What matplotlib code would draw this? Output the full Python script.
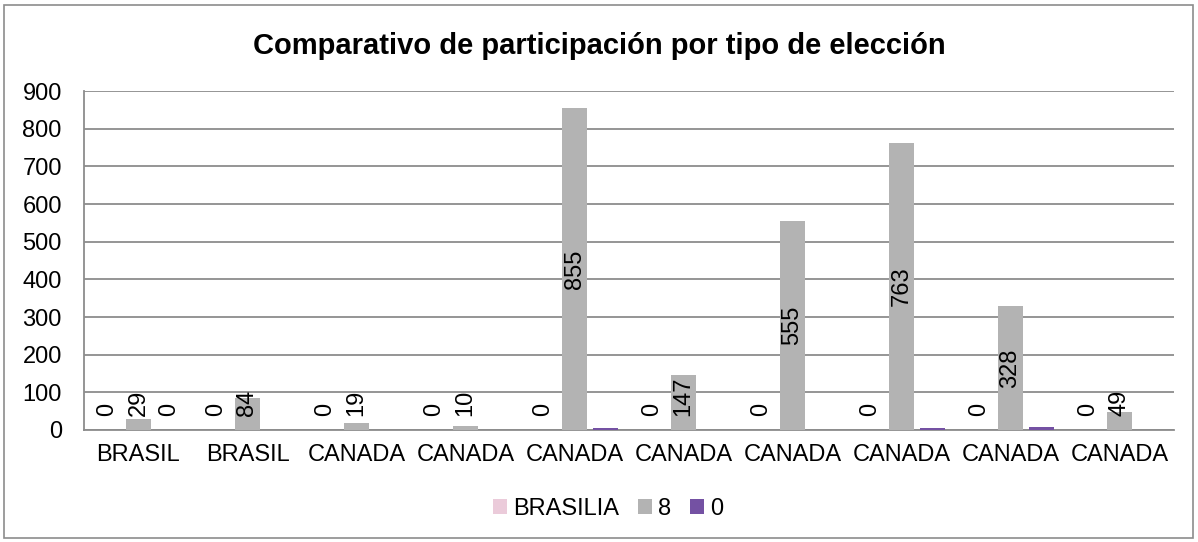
import matplotlib
matplotlib.use("Agg")
import matplotlib.pyplot as plt
from matplotlib.patches import Rectangle
import numpy as np

categories = ["BRASIL", "BRASIL", "CANADA", "CANADA", "CANADA", "CANADA", "CANADA", "CANADA", "CANADA", "CANADA"]
series_names = ["BRASILIA", "8", "0"]
brasilia = [0, 0, 0, 0, 0, 0, 0, 0, 0, 0]
ocho = [29, 84, 19, 10, 855, 147, 555, 763, 328, 49]
cero = [0, 0, 0, 0, 6, 0, 1, 5, 7, 0]
cero_labels = ["0", None, None, None, None, None, None, None, None, None]
yticks = [0, 100, 200, 300, 400, 500, 600, 700, 800, 900]

colors = ["#EBCBDA", "#B3B3B3", "#7451A3"]

plt.rcParams['font.family'] = ['Liberation Sans', 'DejaVu Sans']

fig = plt.figure(figsize=(11.98, 5.42), dpi=100)
fig.patches.append(Rectangle((4/1198, 4/542), 1189/1198, 533/542, transform=fig.transFigure,
                             fill=False, edgecolor="#8C8C8C", linewidth=1.2))
ax_top, ax_bot = 91, 430
ax = fig.add_axes([84/1198, (542-ax_bot)/542, (1174-84)/1198, (ax_bot-ax_top)/542])

x = np.arange(len(categories))
off = 0.285
w = 0.235
ax.bar(x - off, brasilia, w, color=colors[0], label=series_names[0], zorder=3)
ax.bar(x, ocho, w, color=colors[1], label=series_names[1], zorder=3)
ax.bar(x + off, cero, w, color=colors[2], label=series_names[2], zorder=3)

fs = 17
ymax = 900
px_per_unit = (ax_bot - ax_top) / ymax
em_px = fs * 100 / 72


def label_y(v, s):
    half = len(s) * 0.556 * em_px / 2 / px_per_unit
    return max(v / 2, 37 + half)


for i in range(len(x)):
    s = str(brasilia[i])
    ax.text(x[i] - off, label_y(brasilia[i], s), s, rotation=90,
            ha="center", va="center", fontsize=fs, zorder=4)
    s = str(ocho[i])
    ax.text(x[i], label_y(ocho[i], s), s, rotation=90,
            ha="center", va="center", fontsize=fs, zorder=4)
    if cero_labels[i] is not None:
        s = cero_labels[i]
        ax.text(x[i] + off, label_y(cero[i], s), s, rotation=90,
                ha="center", va="center", fontsize=fs, zorder=4)

ax.set_xlim(-0.5, len(x) - 0.5)
ax.set_ylim(0, ymax)
ax.set_yticks(yticks)
ax.set_yticklabels([str(v) for v in yticks], fontsize=fs)
ax.set_xticks(x)
ax.set_xticklabels(categories, fontsize=fs)
ax.tick_params(axis="x", length=0, pad=10)
ax.tick_params(axis="y", length=0, pad=16)
ax.yaxis.grid(True, color="#8C8C8C", linewidth=1.3, zorder=0)
for s in ["top", "right"]:
    ax.spines[s].set_visible(False)
ax.spines["left"].set_color("#8C8C8C")
ax.spines["left"].set_linewidth(1.3)
ax.spines["bottom"].set_color("#8C8C8C")
ax.spines["bottom"].set_linewidth(1.3)

fig.text(599/1198, (542-46)/542, "Comparativo de participación por tipo de elección", ha="center",
         va="center", fontsize=21, fontweight="bold")

leg = fig.legend(loc="center", bbox_to_anchor=(608/1198, (542-509)/542), ncol=3, frameon=False,
                 fontsize=fs, handlelength=0.6, handleheight=0.6, handletextpad=0.25,
                 columnspacing=0.8)

fig.savefig("out.png", dpi=100)
